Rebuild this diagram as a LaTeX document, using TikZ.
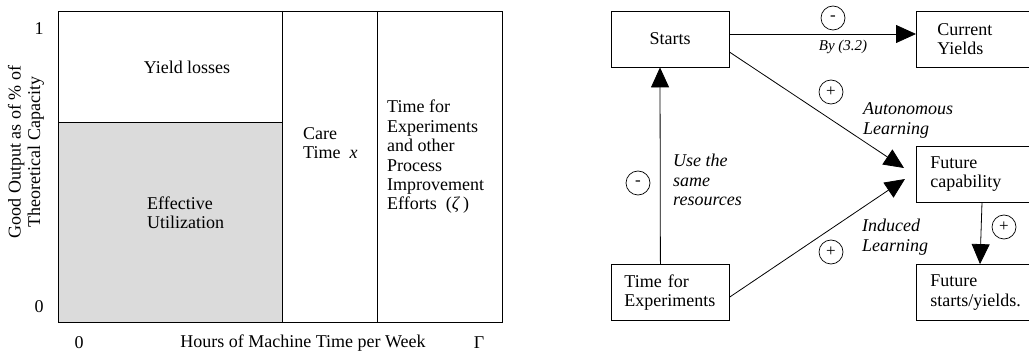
\documentclass[tikz,border=0pt]{standalone}
\usepackage{fontspec}
\setmainfont{Liberation Serif}
\usetikzlibrary{arrows.meta}
\tikzset{
  base/.style={font=\fontsize{18}{19.4}\selectfont},
  lbl/.style={base, inner sep=0pt, align=left},
  ilbl/.style={base, font=\fontsize{18}{19.4}\selectfont\itshape, inner sep=0pt, align=left},
  boxnode/.style={base, draw, line width=0.8pt, minimum height=56pt, inner ysep=0pt, align=left},
  sign/.style={draw, circle, minimum size=24pt, inner sep=0pt, line width=0.7pt, font=\fontsize{17}{17}\selectfont},
  link/.style={line width=0.8pt, -{Triangle[length=20pt,width=18pt]}},
  frame/.style={line width=0.9pt}
}
\begin{document}
\begin{tikzpicture}[x=1pt,y=-1pt]
\useasboundingbox (0,0) rectangle (1029,358);
\clip (0,0) rectangle (1029,358);
% ---------- left chart ----------
\fill[gray!28] (58,122) rectangle (282,322);
\draw[frame] (58,11) rectangle (502,322);
\draw[frame] (282,11) -- (282,322);
\draw[frame] (377,11) -- (377,322);
\draw[frame] (58,122) -- (282,122);
\node[lbl] (yl) at (187,67) {Yield losses};
\node[lbl, anchor=west] (eu) at (147,213) {Effective\\Utilization};
\node[lbl, anchor=west] (ct) at (303,143) {Care\\Time~~\textit{x}};
\node[lbl, anchor=west] (te) at (387,157) {Time for\\Experiments\\and other\\Process\\Improvement\\Efforts~~(\textit{ζ}\,)};
\node[lbl] (one) at (39,29) {1};
\node[lbl] (zy) at (39,307) {0};
\node[lbl] (zx) at (79,343) {0};
\node[lbl] (xl) at (303,343) {Hours of Machine Time per Week};
\node[lbl] (gam) at (479,343) {Γ};
\node[lbl, align=center, rotate=90] (ylab) at (26,152) {Good Output as of \% of\\Theoretical Capacity};
% ---------- right diagram ----------
\node[boxnode, minimum width=118pt, align=center] (S) at (670,39) {Starts};
\node[boxnode, anchor=west, text width=100pt, inner xsep=21pt] (CY) at (916,39) {Current\\Yields};
\node[boxnode, anchor=west, text width=110pt, inner xsep=14pt] (FC) at (916,174) {Future\\capability};
\node[boxnode, anchor=west, text width=110pt, inner xsep=14pt] (FS) at (916,292.5) {Future\\starts/yields.};
\node[boxnode, anchor=west, text width=92pt, inner xsep=13pt] (TE) at (611,292.5) {Time for\\Experiments};

\draw[link] ([yshift=5pt]S.east) -- ([yshift=5pt]CY.west);
\draw[link] ([yshift=-13pt]S.east) -- ([xshift=-12pt,yshift=6pt]FC.west);
\draw[link] ([yshift=-4.5pt]TE.east) -- ([xshift=-11pt,yshift=-5pt]FC.west);
\draw[link] ([xshift=-10pt]TE.north) -- ([xshift=-10pt]S.south);
\draw[link] ([xshift=66pt]FC.south west) -- ([xshift=64pt]FS.north west);

\node[sign] (s1) at (833,18) {-};
\node[sign] (s2) at (831,92) {+};
\node[sign] (s3) at (638,183) {-};
\node[sign] (s4) at (831,252) {+};
\node[sign] (s5) at (1004,227) {+};

\node[ilbl, font=\fontsize{15}{16}\selectfont\itshape] (by) at (843,47) {By (3.2)};
\node[ilbl, anchor=west] (al) at (863,120.5) {Autonomous\\Learning};
\node[ilbl, anchor=west] (ur) at (673,180) {Use the\\same\\resources};
\node[ilbl, anchor=west] (il) at (862,237) {Induced\\Learning};
\end{tikzpicture}
\end{document}
